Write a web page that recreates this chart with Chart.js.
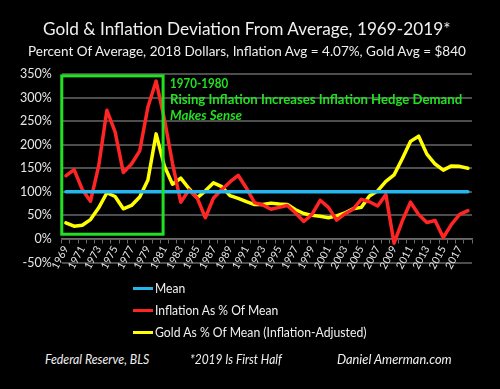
<!DOCTYPE html>
<html>
<head>
<meta charset="utf-8">
<script src="https://cdn.jsdelivr.net/npm/chart.js@4.4.1/dist/chart.umd.min.js"></script>
<style>
  html, body { margin: 0; padding: 0; background: #000; }
  #wrap { position: relative; width: 500px; height: 389px; overflow: hidden; background: #000;
          color: #f0f0f0; font-family: Lato, "Open Sans", sans-serif; }
  #chartBox { position: absolute; left: 0; top: 0; width: 500px; height: 280px; }
  .fit { position: absolute; white-space: nowrap; line-height: 20px; height: 20px; transform-origin: 0 50%; }
  #title { font-size: 17px; }
  #subtitle { font-size: 12.5px; }
  .legend-item { font-size: 12.5px; }
  .swatch { position: absolute; width: 20px; height: 3px; }
  .foot { font-size: 12.5px; font-style: italic; }
</style>
</head>
<body>
<div id="wrap">
  <div id="chartBox"><canvas id="goldChart"></canvas></div>
  <div class="fit" id="title" data-x="43" data-y="29" data-w="408">Gold &amp; Inflation Deviation From Average, 1969-2019*</div>
  <div class="fit" id="subtitle" data-x="28" data-y="52" data-w="438">Percent Of Average, 2018 Dollars, Inflation Avg = 4.07%, Gold Avg = $840</div>
  <div id="legend"></div>
  <div class="fit foot" data-x="45" data-y="360" data-w="104">Federal Reserve, BLS</div>
  <div class="fit foot" data-x="190" data-y="360" data-w="92">*2019 Is First Half</div>
  <div class="fit foot" data-x="337" data-y="360" data-w="115">Daniel Amerman.com</div>
</div>
<script>
/* ------------------------- */
/* DATA                      */
/* ------------------------- */
const years = [
  "1969", "1970", "1971", "1972", "1973", "1974", "1975", "1976", "1977", "1978",
  "1979", "1980", "1981", "1982", "1983", "1984", "1985", "1986", "1987", "1988",
  "1989", "1990", "1991", "1992", "1993", "1994", "1995", "1996", "1997", "1998",
  "1999", "2000", "2001", "2002", "2003", "2004", "2005", "2006", "2007", "2008",
  "2009", "2010", "2011", "2012", "2013", "2014", "2015", "2016", "2017", "2018"
];

// mean line, percent
const mean = [
  100, 100, 100, 100, 100, 100, 100, 100, 100, 100,
  100, 100, 100, 100, 100, 100, 100, 100, 100, 100,
  100, 100, 100, 100, 100, 100, 100, 100, 100, 100,
  100, 100, 100, 100, 100, 100, 100, 100, 100, 100,
  100, 100, 100, 100, 100, 100, 100, 100, 100, 100
];

// inflation as % of mean
const inflation = [
  134, 147, 105, 80, 155, 273, 227, 141, 159, 187,
  280, 335, 255, 160, 78, 104, 87, 45, 87, 105,
  121, 135, 108, 77, 72, 63, 67, 71, 55, 37,
  52, 82, 67, 40, 53, 63, 84, 79, 70, 94,
  -9, 38, 78, 52, 35, 39, 3, 31, 52, 60
];

// gold as % of mean, inflation adjusted
const gold = [
  34, 27, 29, 41, 66, 98, 90, 64, 71, 89,
  125, 223, 155, 116, 129, 107, 87, 102, 119, 111,
  92, 86, 79, 73, 73, 76, 74, 73, 62, 54,
  50, 48, 45, 49, 55, 64, 67, 91, 102, 122,
  136, 170, 207, 218, 180, 159, 146, 155, 154, 150
];

const yTicks = [-50, 0, 50, 100, 150, 200, 250, 300, 350];

const colors = { mean: "#25b6ee", inflation: "#ff2525", gold: "#ffff00", box: "#22e022", grid: "#4d4d4d" };

/* ------------------------- */
/* ANNOTATION BOX + TEXT     */
/* ------------------------- */
const boxPlugin = {
  id: "hedgeBox",
  afterDatasetsDraw(chart) {
    const { ctx, scales: { x, y } } = chart;
    const step = x.getPixelForValue(1) - x.getPixelForValue(0);
    const left = x.getPixelForValue(0) - step / 2;
    const right = x.getPixelForValue(0) + step * 11.85;
    const top = y.getPixelForValue(346);
    const bottom = y.getPixelForValue(10);
    ctx.save();
    ctx.strokeStyle = colors.box;
    ctx.lineWidth = 3;
    ctx.strokeRect(left, top, right - left, bottom - top);

    ctx.fillStyle = colors.box;
    ctx.textBaseline = "middle";
    const tx = right + 7;
    const lines = [
      { text: "1970-1980", font: "bold 13px Lato", y: 84, w: 58 },
      { text: "Rising Inflation Increases Inflation Hedge Demand", font: "bold 13px Lato", y: 100, w: 292 },
      { text: "Makes Sense", font: "italic bold 13px Lato", y: 116, w: 72 }
    ];
    lines.forEach(l => {
      ctx.font = l.font;
      const k = l.w / ctx.measureText(l.text).width;
      ctx.save();
      ctx.translate(tx, l.y);
      ctx.scale(k, 1);
      ctx.fillText(l.text, 0, 0);
      ctx.restore();
    });
    ctx.restore();
  }
};

/* ------------------------- */
/* CHART                     */
/* ------------------------- */
const chart = new Chart(document.getElementById("goldChart"), {
  type: "line",
  data: {
    labels: years,
    datasets: [
      { label: "Mean", data: mean, borderColor: colors.mean, backgroundColor: colors.mean },
      { label: "Inflation As % Of Mean", data: inflation, borderColor: colors.inflation, backgroundColor: colors.inflation },
      { label: "Gold As % Of Mean (Inflation-Adjusted)", data: gold, borderColor: colors.gold, backgroundColor: colors.gold }
    ]
  },
  options: {
    responsive: true,
    maintainAspectRatio: false,
    animation: false,
    layout: { padding: { top: 74, left: 10, right: 28, bottom: 0 } },
    elements: {
      line: { borderWidth: 3.5, tension: 0, borderJoinStyle: "round", borderCapStyle: "round" },
      point: { radius: 0, hoverRadius: 0 }
    },
    plugins: {
      legend: { display: false },
      tooltip: { enabled: false }
    },
    scales: {
      x: {
        position: { y: 0 },
        offset: true,
        grid: { offset: true, drawOnChartArea: false, drawTicks: true, tickLength: 4, color: "#6a6a6a", lineWidth: 1 },
        border: { color: "#6a6a6a", width: 1.5 },
        ticks: {
          autoSkip: false,
          maxRotation: 62,
          minRotation: 62,
          padding: 1,
          color: "#e6e6e6",
          font: { family: "Lato", size: 10.5 },
          callback: (v, i) => (i % 2 === 0 ? years[i] : "")
        }
      },
      y: {
        min: -50,
        max: 350,
        afterBuildTicks: axis => { axis.ticks = yTicks.map(v => ({ value: v })); },
        grid: { color: colors.grid, lineWidth: 2, drawTicks: false },
        border: { display: false },
        ticks: {
          padding: 10,
          color: "#e6e6e6",
          font: { family: "Lato", size: 12.5 },
          callback: v => v + "%"
        }
      }
    }
  },
  plugins: [boxPlugin]
});

/* ------------------------- */
/* LEGEND (html)             */
/* ------------------------- */
const legendRows = [288.5, 310.5, 332.5];
const legendWidths = [30, 123, 212];
const legendEl = document.getElementById("legend");
chart.data.datasets.forEach((ds, i) => {
  const sw = document.createElement("div");
  sw.className = "swatch";
  sw.style.background = ds.borderColor;
  sw.style.left = "133px";
  sw.style.top = (legendRows[i] - 1.5) + "px";
  legendEl.appendChild(sw);

  const txt = document.createElement("div");
  txt.className = "fit legend-item";
  txt.dataset.x = 155;
  txt.dataset.y = legendRows[i];
  txt.dataset.w = legendWidths[i];
  txt.textContent = ds.label;
  legendEl.appendChild(txt);
});

/* ------------------------- */
/* TEXT PLACEMENT            */
/* ------------------------- */
document.querySelectorAll(".fit").forEach(el => {
  el.style.left = el.dataset.x + "px";
  el.style.top = (el.dataset.y - 10) + "px";
  if (el.dataset.w) {
    const k = el.dataset.w / el.offsetWidth;
    el.style.transform = "scaleX(" + k.toFixed(3) + ")";
  }
});
</script>
</body>
</html>
